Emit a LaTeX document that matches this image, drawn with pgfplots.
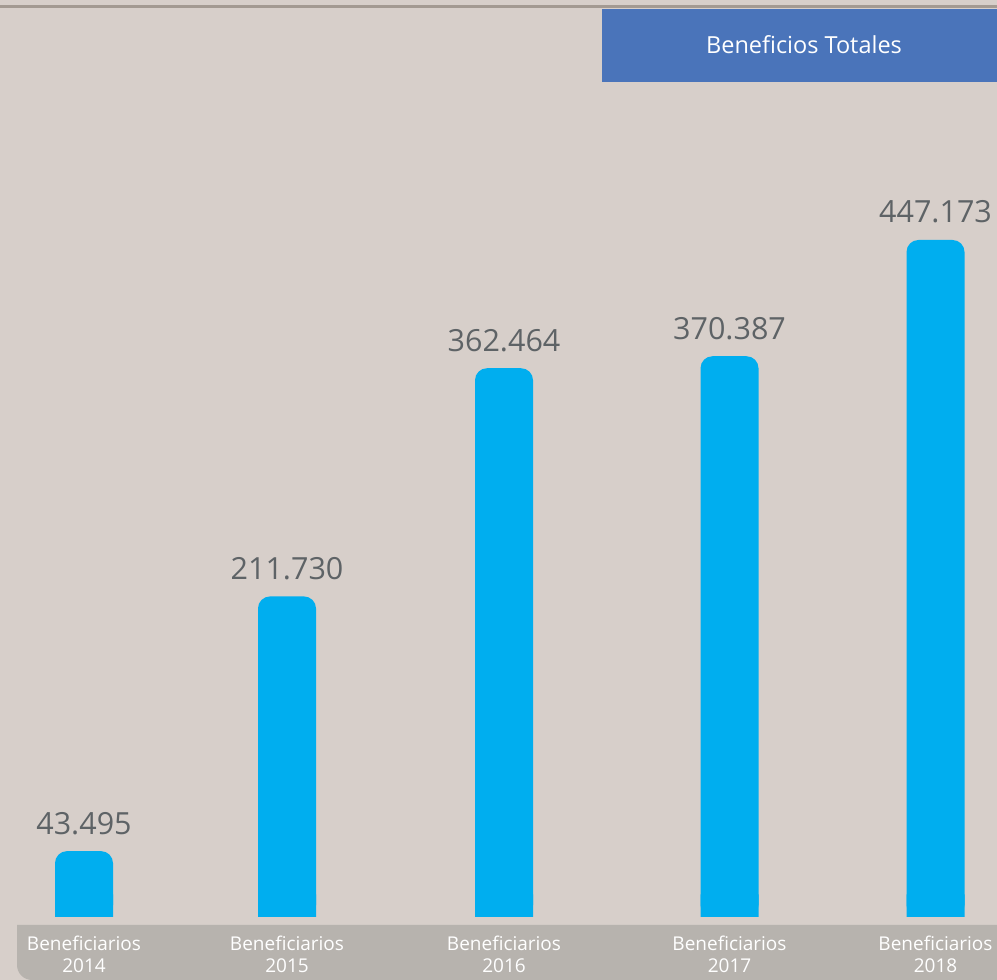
\documentclass[border=0pt]{standalone}
\usepackage{fontspec}
\setmainfont{Open Sans}
\usepackage{pgfplots}
\pgfplotsset{compat=1.18}
\definecolor{bg}{HTML}{D7CFCA}
\definecolor{topline}{HTML}{A39A92}
\definecolor{boxblue}{HTML}{4A74BA}
\definecolor{strip}{HTML}{B7B3AE}
\definecolor{barc}{HTML}{00AEEF}
\definecolor{valc}{HTML}{5E6366}
\begin{document}
\begin{tikzpicture}
\fill[bg] (0,0) rectangle (997pt,980pt);
\fill[topline] (0,972pt) rectangle (997pt,975pt);
\fill[boxblue] (602pt,898pt) rectangle (997pt,971pt);
\node[text=white,font=\fontsize{23.5}{28}\selectfont] at (804pt,935pt) {Beneficios Totales};
\fill[strip] (17pt,55pt) -- (17pt,15pt) arc (180:270:15pt) -- (997pt,0pt) -- (997pt,55pt) -- cycle;
\begin{axis}[
  at={(0pt,63pt)}, anchor=south west,
  scale only axis, width=997pt, height=917pt,
  xmin=0, xmax=997, ymin=0, ymax=605678,
  axis line style={draw=none}, major tick length=0pt,
  ytick=\empty,
  xtick={84,287,504,729.5,935.5},
  xticklabels={Beneficiarios\\2014,Beneficiarios\\2015,Beneficiarios\\2016,Beneficiarios\\2017,Beneficiarios\\2018},
  xticklabel style={align=center, text=white, font=\fontsize{19}{21.5}\selectfont, inner sep=0pt, anchor=north, yshift=-19pt},
  clip=false,
]
\addplot[ybar, bar shift=0pt, bar width=58pt, fill=barc, draw=none, rounded corners=12pt,
  nodes near coords={\pgfmathprintnumber[fixed,precision=0,1000 sep={.},assume math mode=true]{\pgfplotspointmeta}},
  every node near coord/.append style={anchor=base, yshift=17pt, inner sep=0pt, text=valc, font=\fontsize{30.5}{36}\selectfont}]
  coordinates {(84,43495) (287,211730) (504,362464) (729.5,370387) (935.5,447173)};
\addplot[ybar, bar shift=0pt, bar width=58pt, fill=barc, draw=none]
  coordinates {(84,15000) (287,15000) (504,15000) (729.5,15000) (935.5,15000)};
\end{axis}
\pgfresetboundingbox
\path (0,0) rectangle (997pt,980pt);
\end{tikzpicture}
\end{document}
